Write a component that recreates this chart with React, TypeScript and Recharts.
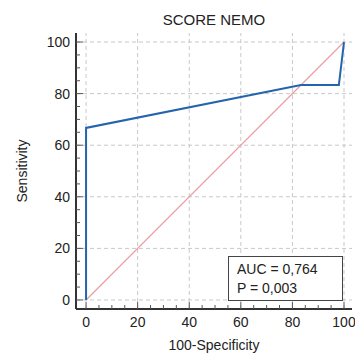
import { LineChart, Line, XAxis, YAxis, ReferenceLine } from "recharts";

const chartTitle = "SCORE NEMO";
const xLabel = "100-Specificity";
const yLabel = "Sensitivity";

// ROC curve
const rocFpr = [0, 0, 83.3, 98, 100];
const rocTpr = [0, 66.7, 83.3, 83.3, 100];

// reference diagonal
const diagFpr = [0, 100];
const diagTpr = [0, 100];

const allTicks = [0, 5, 10, 15, 20, 25, 30, 35, 40, 45, 50, 55, 60, 65, 70, 75, 80, 85, 90, 95, 100];
const majorTicks = [0, 20, 40, 60, 80, 100];
const statLines = ["AUC = 0,764", "P = 0,003"];

const roc = rocFpr.map((x, i) => ({ x, y: rocTpr[i] }));
const diag = diagFpr.map((x, i) => ({ x, y: diagTpr[i] }));

const FONT = "'Liberation Sans', Arial, sans-serif";

function XTick(props: any) {
  const { x, y, payload } = props;
  const major = majorTicks.includes(payload.value);
  return (
    <g>
      <line x1={x} x2={x} y1={y} y2={y - (major ? 7 : 4)} stroke="#555" />
      {major && (
        <text x={x} y={y + 18} textAnchor="middle" fontSize={14} fontFamily={FONT} fill="#222">
          {payload.value}
        </text>
      )}
    </g>
  );
}

function YTick(props: any) {
  const { x, y, payload } = props;
  const major = majorTicks.includes(payload.value);
  return (
    <g>
      <line x1={x} x2={x + (major ? 7 : 4)} y1={y} y2={y} stroke="#555" />
      {major && (
        <text x={x - 6} y={y + 5} textAnchor="end" fontSize={14} fontFamily={FONT} fill="#222">
          {payload.value}
        </text>
      )}
    </g>
  );
}

export default function App() {
  return (
    <div style={{ position: "absolute", left: 0, top: 0, width: 355, height: 354, background: "#fff", fontFamily: FONT }}>
      <div
        style={{
          position: "absolute",
          left: 76,
          width: 276,
          top: 12,
          textAlign: "center",
          fontSize: 15,
          lineHeight: "15px",
          color: "#222",
        }}
      >
        {chartTitle}
      </div>
      <LineChart width={355} height={354} margin={{ top: 33, right: 3, left: 0, bottom: 0 }}>
        <XAxis
          type="number"
          dataKey="x"
          domain={[-3.9, 103.1]}
          ticks={allTicks}
          interval={0}
          tickSize={0}
          tickMargin={0}
          tickLine={false}
          tick={<XTick />}
          height={45}
          axisLine={{ stroke: "#333", strokeWidth: 2 }}
          label={{ value: xLabel, position: "center", dy: 14, fontSize: 14, fill: "#222", fontFamily: FONT }}
        />
        <YAxis
          type="number"
          dataKey="y"
          domain={[-3.5, 103.5]}
          ticks={allTicks}
          interval={0}
          tickSize={0}
          tickMargin={0}
          tickLine={false}
          tick={<YTick />}
          width={76}
          axisLine={{ stroke: "#333", strokeWidth: 2 }}
          label={{ value: yLabel, position: "center", angle: -90, dx: -16, fontSize: 14, fill: "#222", fontFamily: FONT }}
        />
        {majorTicks.map((v) => (
          <ReferenceLine key={`gx${v}`} x={v} stroke="#c8c8c8" strokeDasharray="4 3" />
        ))}
        {majorTicks.map((v) => (
          <ReferenceLine key={`gy${v}`} y={v} stroke="#c8c8c8" strokeDasharray="4 3" />
        ))}
        <Line
          data={diag}
          dataKey="y"
          type="linear"
          stroke="#e8a0a0"
          strokeWidth={1.2}
          dot={false}
          activeDot={false}
          isAnimationActive={false}
        />
        <Line
          data={roc}
          dataKey="y"
          type="linear"
          stroke="#2463ad"
          strokeWidth={2}
          dot={false}
          activeDot={false}
          isAnimationActive={false}
        />
      </LineChart>
      <div
        style={{
          position: "absolute",
          left: 228,
          top: 256,
          width: 115,
          height: 45,
          boxSizing: "border-box",
          border: "1px solid #444",
          background: "#fff",
          padding: "3px 0 0 8px",
          fontSize: 14,
          lineHeight: "19px",
          color: "#222",
        }}
      >
        {statLines.map((s) => (
          <div key={s}>{s}</div>
        ))}
      </div>
    </div>
  );
}
